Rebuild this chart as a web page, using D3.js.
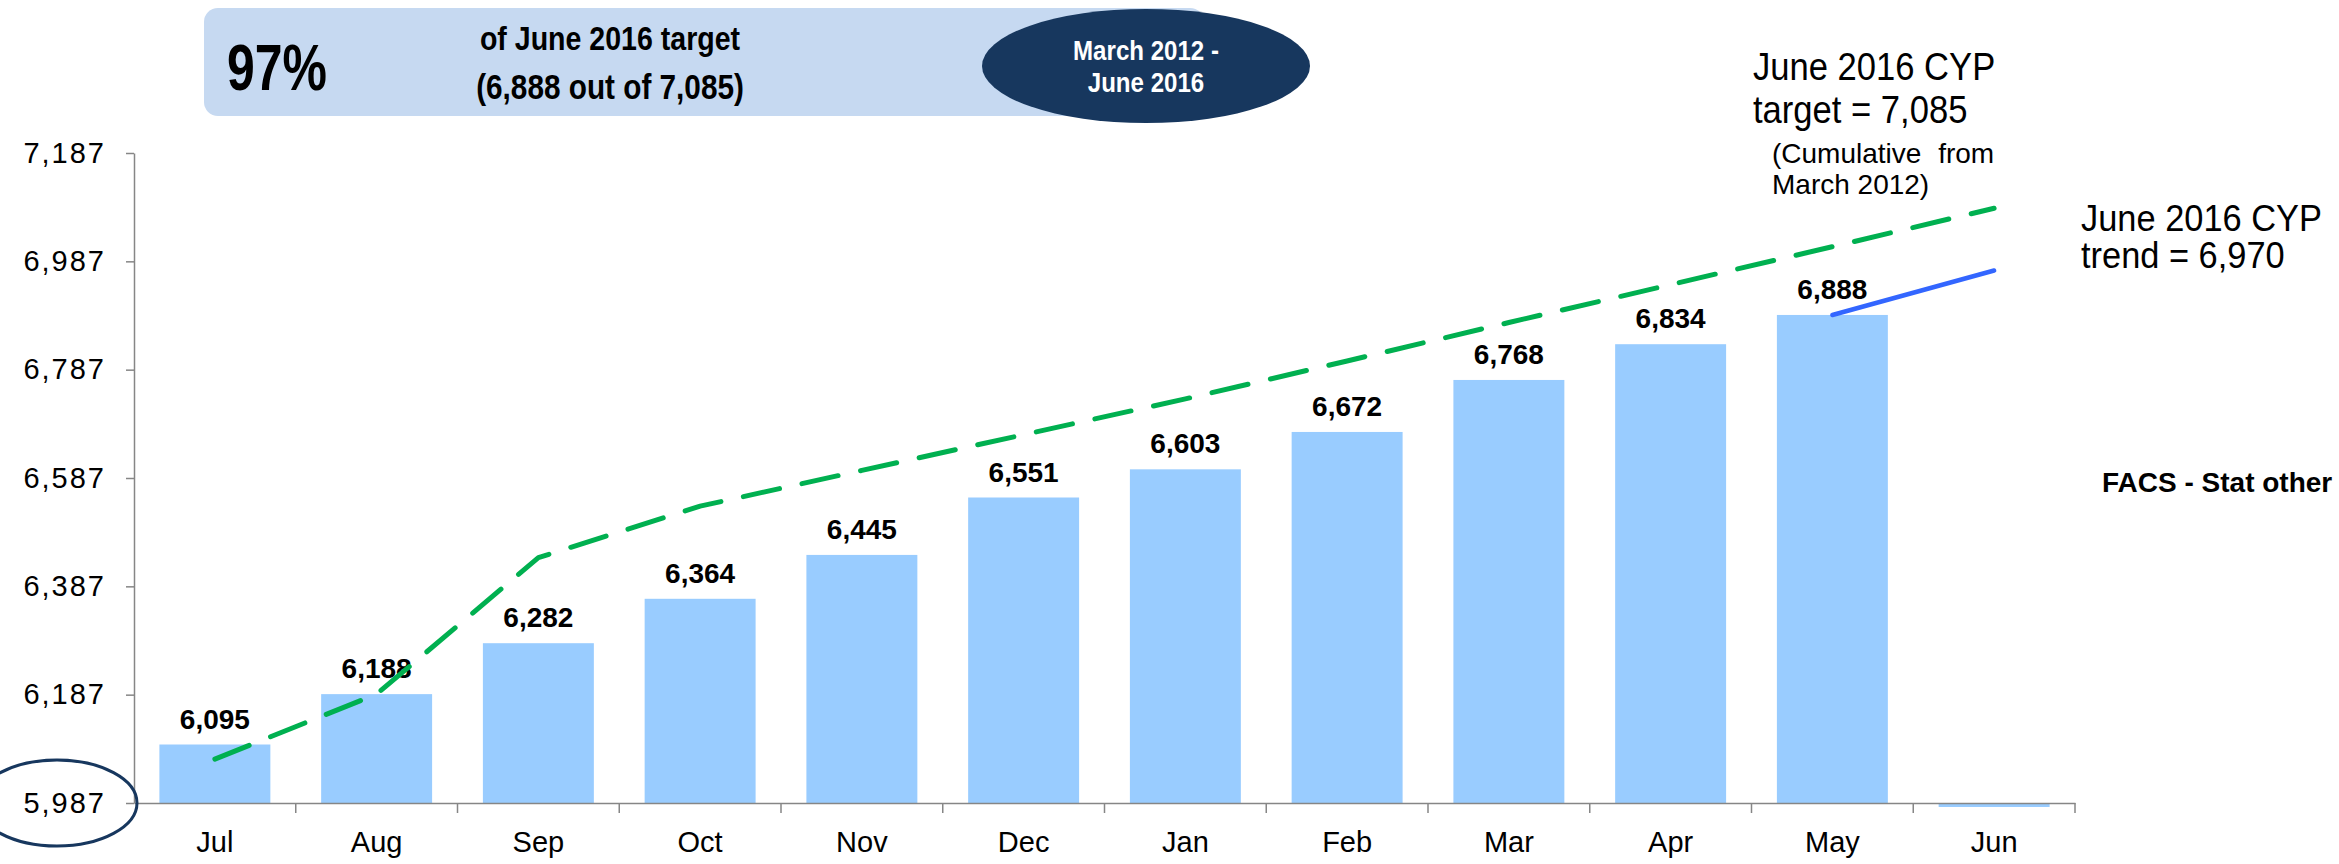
<!DOCTYPE html>
<html lang="en">
<head>
    <meta charset="UTF-8">
    <title>CYP progress</title>
    <script src="https://cdn.jsdelivr.net/npm/d3@7"></script>
    <style>
        body {
            margin: 0;
            background-color: #fff;
            font-family: 'Liberation Sans', Arial, sans-serif;
            overflow: hidden;
        }
        svg {
            display: block;
        }
        .banner {
            font-weight: bold;
        }
        .axis path, .axis line {
            stroke: #868686;
            stroke-width: 1.5;
        }
        .axis text {
            fill: #000;
            font-family: 'Liberation Sans', Arial, sans-serif;
        }
    </style>
</head>
<body>
    <svg></svg>

    <script>
        // chart values
        const months = ["Jul", "Aug", "Sep", "Oct", "Nov", "Dec", "Jan", "Feb", "Mar", "Apr", "May", "Jun"];
        const cypActual = [6095, 6188, 6282, 6364, 6445, 6551, 6603, 6672, 6768, 6834, 6888, null];
        const cypTarget = [6068, 6188, 6440, 6535, 6601, 6667, 6733, 6803, 6874, 6944, 7014, 7085];
        const trendMonths = ["May", "Jun"];
        const cypTrend = [6888, 6970];
        const yTicks = [5987, 6187, 6387, 6587, 6787, 6987, 7187];

        const width = 2339;
        const height = 864;

        const svg = d3.select("svg")
            .attr("width", width)
            .attr("height", height);

        const x = d3.scaleBand()
            .domain(months)
            .range([134, 2075])
            .paddingInner(0.314)
            .paddingOuter(0.157);

        const y = d3.scaleLinear()
            .domain([yTicks[0], yTicks[yTicks.length - 1]])
            .range([803, 153]);

        const cx = m => x(m) + x.bandwidth() / 2;

        // text squeezed sideways, the original uses a narrow face
        function narrowText(px, py, txt, size, sx) {
            return svg.append("text")
                .attr("transform", `translate(${px},${py}) scale(${sx},1)`)
                .attr("font-size", size)
                .text(txt);
        }

        // header banner
        svg.append("rect")
            .attr("x", 204).attr("y", 8)
            .attr("width", 1000).attr("height", 108)
            .attr("rx", 14)
            .attr("fill", "#c6d9f1");

        svg.append("ellipse")
            .attr("cx", 1146).attr("cy", 66)
            .attr("rx", 164).attr("ry", 57)
            .attr("fill", "#17375e");

        narrowText(227, 90, "97%", 64, 0.78).attr("class", "banner");
        narrowText(610, 50, "of June 2016 target", 34, 0.84)
            .attr("class", "banner").attr("text-anchor", "middle");
        narrowText(610, 99, "(6,888 out of 7,085)", 35, 0.85)
            .attr("class", "banner").attr("text-anchor", "middle");
        narrowText(1146, 60, "March 2012 -", 28, 0.86)
            .attr("class", "banner").attr("text-anchor", "middle").attr("fill", "#fff");
        narrowText(1146, 92, "June 2016", 28, 0.86)
            .attr("class", "banner").attr("text-anchor", "middle").attr("fill", "#fff");

        // bars
        svg.append("g")
            .selectAll("rect")
            .data(months.map((m, i) => ({ m: m, v: cypActual[i] })))
            .enter().append("rect")
            .attr("x", d => x(d.m))
            .attr("width", x.bandwidth())
            .attr("y", d => d.v == null ? y(yTicks[0]) : y(d.v))
            .attr("height", d => d.v == null ? 4 : y(yTicks[0]) - y(d.v))
            .attr("fill", "#99ccff");

        // y axis
        const yAxis = svg.append("g")
            .attr("class", "axis")
            .attr("transform", "translate(134,0)")
            .call(d3.axisLeft(y)
                .tickValues(yTicks)
                .tickFormat(d3.format(","))
                .tickSize(8)
                .tickSizeOuter(0)
                .tickPadding(20));
        yAxis.selectAll("text")
            .attr("font-size", 29)
            .style("letter-spacing", "2px");

        // x axis
        const xAxis = svg.append("g")
            .attr("class", "axis")
            .attr("transform", "translate(0,803)")
            .call(d3.axisBottom(x)
                .tickSize(0)
                .tickSizeOuter(0)
                .tickPadding(28));
        xAxis.selectAll("text").attr("font-size", 29);

        xAxis.selectAll(".bound")
            .data(months)
            .enter().append("line")
            .attr("class", "bound")
            .attr("x1", m => x(m) + x.bandwidth() + x.step() * x.paddingInner() / 2)
            .attr("x2", m => x(m) + x.bandwidth() + x.step() * x.paddingInner() / 2)
            .attr("y1", 0)
            .attr("y2", 10);

        // value labels
        svg.append("g")
            .selectAll("text")
            .data(months.map((m, i) => ({ m: m, v: cypActual[i] })).filter(d => d.v != null))
            .enter().append("text")
            .attr("x", d => cx(d.m))
            .attr("y", d => y(d.v) - 16)
            .attr("text-anchor", "middle")
            .attr("font-size", 28)
            .attr("font-weight", "bold")
            .text(d => d3.format(",")(d.v));

        // target line (dashed green)
        const line = d3.line()
            .x(d => cx(d.m))
            .y(d => y(d.v));

        svg.append("path")
            .datum(months.map((m, i) => ({ m: m, v: cypTarget[i] })))
            .attr("d", line)
            .attr("fill", "none")
            .attr("stroke", "#00b050")
            .attr("stroke-width", 5)
            .attr("stroke-dasharray", "37 23")
            .attr("stroke-linecap", "round")
            .attr("stroke-linejoin", "round");

        // trend line
        svg.append("path")
            .datum(trendMonths.map((m, i) => ({ m: m, v: cypTrend[i] })))
            .attr("d", line)
            .attr("fill", "none")
            .attr("stroke", "#3366ff")
            .attr("stroke-width", 4.5)
            .attr("stroke-linecap", "round");

        // circle round the axis minimum
        svg.append("ellipse")
            .attr("cx", 57).attr("cy", y(yTicks[0]))
            .attr("rx", 80).attr("ry", 43)
            .attr("fill", "none")
            .attr("stroke", "#17375e")
            .attr("stroke-width", 3);

        // notes on the right
        narrowText(1753, 80, "June 2016 CYP", 38, 0.91);
        narrowText(1753, 123, "target = 7,085", 38, 0.91);
        narrowText(1772, 163, "(Cumulative from", 28, 1).style("word-spacing", "9px");
        narrowText(1772, 194, "March 2012)", 28, 1);
        narrowText(2081, 231, "June 2016 CYP", 37, 0.93);
        narrowText(2081, 268, "trend = 6,970", 37, 0.93);

        svg.append("text")
            .attr("x", 2102).attr("y", 492)
            .attr("font-size", 28)
            .attr("font-weight", "bold")
            .text("FACS - Stat other");
    </script>
</body>
</html>
